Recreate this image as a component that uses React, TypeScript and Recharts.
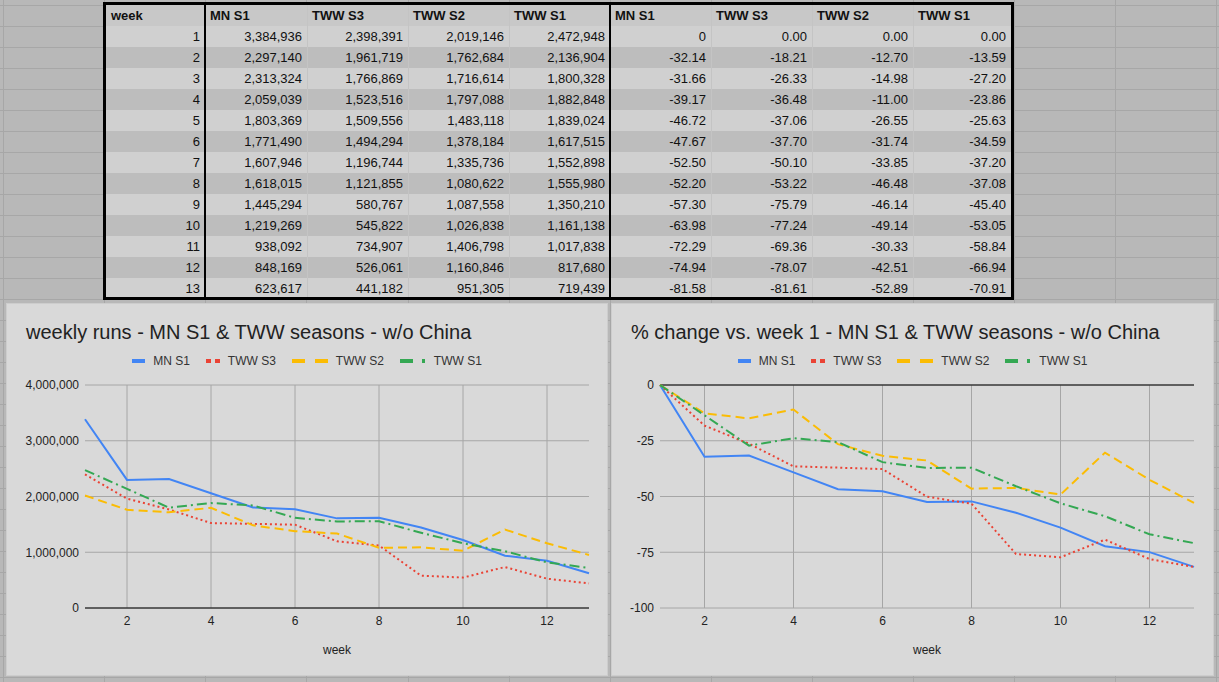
import React from 'react';
import { LineChart, Line, XAxis, YAxis, Legend, ReferenceLine } from 'recharts';

// ---- data ----
const weeks = [1, 2, 3, 4, 5, 6, 7, 8, 9, 10, 11, 12, 13];
const seriesNames = ['MN S1', 'TWW S3', 'TWW S2', 'TWW S1'];

const mnS1Runs = [3384936, 2297140, 2313324, 2059039, 1803369, 1771490, 1607946, 1618015, 1445294, 1219269, 938092, 848169, 623617];
const tww3Runs = [2398391, 1961719, 1766869, 1523516, 1509556, 1494294, 1196744, 1121855, 580767, 545822, 734907, 526061, 441182];
const tww2Runs = [2019146, 1762684, 1716614, 1797088, 1483118, 1378184, 1335736, 1080622, 1087558, 1026838, 1406798, 1160846, 951305];
const tww1Runs = [2472948, 2136904, 1800328, 1882848, 1839024, 1617515, 1552898, 1555980, 1350210, 1161138, 1017838, 817680, 719439];

const mnS1Pct = [0, -32.14, -31.66, -39.17, -46.72, -47.67, -52.5, -52.2, -57.3, -63.98, -72.29, -74.94, -81.58];
const tww3Pct = [0, -18.21, -26.33, -36.48, -37.06, -37.7, -50.1, -53.22, -75.79, -77.24, -69.36, -78.07, -81.61];
const tww2Pct = [0, -12.7, -14.98, -11.0, -26.55, -31.74, -33.85, -46.48, -46.14, -49.14, -30.33, -42.51, -52.89];
const tww1Pct = [0, -13.59, -27.2, -23.86, -25.63, -34.59, -37.2, -37.08, -45.4, -53.05, -58.84, -66.94, -70.91];

const runsTicks = [0, 1000000, 2000000, 3000000, 4000000];
const pctTicks = [-100, -75, -50, -25, 0];
const weekTicks = [2, 4, 6, 8, 10, 12];

const runsTitle = 'weekly runs - MN S1 & TWW seasons - w/o China';
const pctTitle = '% change vs. week 1 - MN S1 & TWW seasons - w/o China';

// ---- styling ----
const FONT = "'Liberation Sans', Arial, Helvetica, sans-serif";
const GRID = '#a6a6a6';
const seriesStyle = [
  { key: 's0', color: '#4285f4', dash: undefined as string | undefined, kind: 'solid' },
  { key: 's1', color: '#ea4335', dash: '2 3', kind: 'dots' },
  { key: 's2', color: '#fbbc04', dash: '9 5', kind: 'dash' },
  { key: 's3', color: '#34a853', dash: '10 4 2 4', kind: 'dashdot' },
];

const runsRows = weeks.map((w, i) => ({
  week: w,
  s0: mnS1Runs[i],
  s1: tww3Runs[i],
  s2: tww2Runs[i],
  s3: tww1Runs[i],
}));
const pctRows = weeks.map((w, i) => ({
  week: w,
  s0: mnS1Pct[i],
  s1: tww3Pct[i],
  s2: tww2Pct[i],
  s3: tww1Pct[i],
}));

const LegendIcon = ({ kind, color }: { kind: string; color: string }) => {
  if (kind === 'solid')
    return (
      <svg width={13} height={6}>
        <rect x={0} y={1} width={13} height={4} fill={color} />
      </svg>
    );
  if (kind === 'dots')
    return (
      <svg width={14} height={6}>
        <rect x={0} y={1} width={5} height={4} fill={color} />
        <rect x={9} y={1} width={5} height={4} fill={color} />
      </svg>
    );
  if (kind === 'dash')
    return (
      <svg width={36} height={6}>
        <rect x={0} y={1} width={13} height={4} fill={color} />
        <rect x={23} y={1} width={13} height={4} fill={color} />
      </svg>
    );
  return (
    <svg width={26} height={6}>
      <rect x={0} y={1} width={13} height={4} fill={color} />
      <rect x={22} y={1} width={3} height={4} fill={color} />
    </svg>
  );
};

const renderLegend = () => (
  <div style={{ height: 34, display: 'flex', justifyContent: 'center', alignItems: 'flex-start' }}>
    <div style={{ display: 'flex', alignItems: 'center', height: 20 }}>
      {seriesStyle.map((s, i) => (
        <div key={s.key} style={{ display: 'flex', alignItems: 'center', marginLeft: i ? 16 : 0 }}>
          <LegendIcon kind={s.kind} color={s.color} />
          <span style={{ marginLeft: 8, fontSize: 12, color: '#333', fontFamily: FONT }}>{seriesNames[i]}</span>
        </div>
      ))}
    </div>
  </div>
);

type PanelProps = {
  left: number;
  width: number;
  title: string;
  data: any[];
  yTicks: number[];
  yDomain: [number, number];
  yWidth: number;
  rightMargin: number;
  fmt: (v: number) => string;
};

const Panel = ({ left, width, title, data, yTicks, yDomain, yWidth, rightMargin, fmt }: PanelProps) => (
  <div
    style={{
      position: 'absolute',
      left,
      top: 303,
      width,
      height: 373,
      background: '#d9d9d9',
      boxShadow: 'inset 0 0 0 1px #cdcdcd',
      fontFamily: FONT,
    }}
  >
    <div
      style={{
        position: 'absolute',
        left: 20,
        top: 17,
        fontSize: 20,
        lineHeight: '24px',
        color: '#222',
        whiteSpace: 'nowrap',
        zIndex: 2,
      }}
    >
      {title}
    </div>
    <LineChart width={width} height={373} data={data} margin={{ top: 48, right: rightMargin, bottom: 0, left: 0 }}>
      {/* gridlines: horizontal at each value tick, vertical at each labelled week */}
      {yTicks.map((t) => (
        <ReferenceLine key={'hy' + t} y={t} stroke={GRID} strokeWidth={1} />
      ))}
      {weekTicks.map((t) => (
        <ReferenceLine key={'vx' + t} x={t} stroke={GRID} strokeWidth={1} />
      ))}
      <XAxis
        dataKey="week"
        type="number"
        domain={[1, 13]}
        ticks={weekTicks}
        height={68}
        axisLine={false}
        tickLine={false}
        tick={{ fill: '#222', fontSize: 12 }}
        label={{ value: 'week', position: 'insideBottom', offset: 22, fill: '#222', fontSize: 12 }}
      />
      <YAxis
        type="number"
        domain={yDomain}
        ticks={yTicks}
        width={yWidth}
        axisLine={false}
        tickLine={false}
        tickSize={6}
        tickMargin={0}
        tick={{ fill: '#222', fontSize: 12 }}
        tickFormatter={fmt}
        interval={0}
      />
      <ReferenceLine y={0} stroke="#000" strokeWidth={1} />
      <Legend
        verticalAlign="top"
        align="center"
        content={renderLegend}
        wrapperStyle={{ left: 0, width, top: 48 }}
      />
      {seriesStyle.map((s, i) => (
        <Line
          key={s.key}
          dataKey={s.key}
          name={seriesNames[i]}
          type="linear"
          stroke={s.color}
          strokeWidth={2}
          strokeDasharray={s.dash}
          dot={false}
          activeDot={false}
          isAnimationActive={false}
        />
      ))}
    </LineChart>
  </div>
);

// ---- spreadsheet table ----
const colEdges = [106, 205, 307, 408, 509, 610, 711, 812, 913, 1011];
const thickEdges = [205, 610];
const headerLabels = ['week', ...seriesNames, ...seriesNames];
const runsCols = [mnS1Runs, tww3Runs, tww2Runs, tww1Runs];
const pctCols = [mnS1Pct, tww3Pct, tww2Pct, tww1Pct];

const fmtRuns = (v: number) => v.toLocaleString('en-US');
const fmtPctCell = (v: number, col: number) => (col === 0 && v === 0 ? '0' : v.toFixed(2));

const Table = () => {
  const rows: React.ReactNode[] = [];
  const ox = 106;
  rows.push(
    <div key="h" style={{ position: 'absolute', left: 0, top: 0, width: 905, height: 21, background: '#c8c8c8' }} />
  );
  headerLabels.forEach((h, c) => {
    rows.push(
      <div
        key={'hl' + c}
        style={{
          position: 'absolute',
          left: colEdges[c] - ox + 5,
          top: 0,
          height: 21,
          lineHeight: '21px',
          fontWeight: 'bold',
          fontSize: 13,
          color: '#111',
        }}
      >
        {h}
      </div>
    );
  });
  weeks.forEach((w, r) => {
    const top = 21 * (r + 1);
    rows.push(
      <div
        key={'bg' + r}
        style={{
          position: 'absolute',
          left: 0,
          top,
          width: 905,
          height: 21,
          background: r % 2 === 0 ? '#d0d0d0' : '#bdbdbd',
        }}
      />
    );
    const cells = [
      String(w),
      ...runsCols.map((col) => fmtRuns(col[r])),
      ...pctCols.map((col, ci) => fmtPctCell(col[r], ci)),
    ];
    cells.forEach((txt, c) => {
      rows.push(
        <div
          key={'c' + r + '-' + c}
          style={{
            position: 'absolute',
            left: colEdges[c] - ox,
            width: colEdges[c + 1] - colEdges[c] - 5,
            top,
            height: 21,
            lineHeight: '21px',
            fontSize: 13,
            textAlign: 'right',
            color: '#111',
          }}
        >
          {txt}
        </div>
      );
    });
  });
  colEdges.slice(1, -1).forEach((x) => {
    const thick = thickEdges.includes(x);
    rows.push(
      <div
        key={'v' + x}
        style={{
          position: 'absolute',
          left: x - ox - (thick ? 1 : 0),
          top: 0,
          width: thick ? 2 : 1,
          height: 300,
          background: thick ? '#000' : '#c4c4c4',
        }}
      />
    );
  });
  return (
    <div
      style={{
        position: 'absolute',
        left: 103,
        top: 2,
        width: 911,
        height: 298,
        border: '3px solid #000',
        boxSizing: 'border-box',
        overflow: 'hidden',
        fontFamily: FONT,
      }}
    >
      <div style={{ position: 'absolute', left: 0, top: 0, width: 905, height: 292 }}>{rows}</div>
    </div>
  );
};

// ---- background sheet grid ----
const gridCols = [3, 104, 205, 306, 408, 509, 610, 711, 812, 913, 1014, 1115, 1216];
const gridRows = Array.from({ length: 33 }, (_, k) => 5 + 21 * k);

export default function App() {
  return (
    <div
      style={{
        position: 'relative',
        width: 1219,
        height: 682,
        background: '#b8b8b8',
        overflow: 'hidden',
        fontFamily: FONT,
      }}
    >
      <style>{'body{margin:0}'}</style>
      {gridCols.map((x) => (
        <div key={'gc' + x} style={{ position: 'absolute', left: x, top: 0, width: 1, height: 682, background: '#a7a7a7' }} />
      ))}
      {gridRows.map((y) => (
        <div key={'gr' + y} style={{ position: 'absolute', left: 0, top: y, width: 1219, height: 1, background: '#a7a7a7' }} />
      ))}
      <Table />
      <Panel
        left={6}
        width={602}
        title={runsTitle}
        data={runsRows}
        yTicks={runsTicks}
        yDomain={[0, 4000000]}
        yWidth={79}
        rightMargin={19}
        fmt={fmtRuns}
      />
      <Panel
        left={611}
        width={603}
        title={pctTitle}
        data={pctRows}
        yTicks={pctTicks}
        yDomain={[-100, 0]}
        yWidth={49}
        rightMargin={20}
        fmt={(v: number) => String(v)}
      />
    </div>
  );
}
